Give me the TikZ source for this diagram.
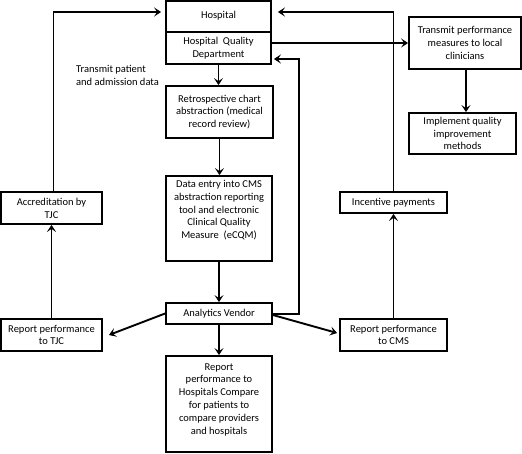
\documentclass[tikz,border=0pt]{standalone}
\usepackage{fontspec}
\setmainfont{Carlito}
\usetikzlibrary{arrows.meta}
\begin{document}
\begin{tikzpicture}[x=1pt,y=1pt,
  box/.style={draw, line width=1.8pt, inner sep=0pt, align=center, font=\fontsize{10.5}{12.8}\selectfont},
  txt/.style={inner sep=0pt, align=center, font=\fontsize{10.5}{12.8}\selectfont},
  arr/.style={line width=1.9pt, -{Stealth[length=7pt,width=9pt,inset=3pt]}},
  ln/.style={line width=1.9pt}]
\useasboundingbox (0,0) rectangle (522,-453);
% boxes
\node[box, minimum width=105pt, minimum height=31pt] (hosp) at (218.5,-16.5) {\raisebox{4pt}{Hospital}};
\node[box, minimum width=105pt, minimum height=32pt] (hqd) at (218.5,-48) {Hospital\ \ Quality\\Department};
\node[box, minimum width=107pt, minimum height=52pt] (retro) at (219.5,-112) {Retrospective chart\\abstraction (medical\\record review)};
\node[box, minimum width=112pt, minimum height=52pt] (tpm) at (465,-43) {Transmit performance\\measures to local\\clinicians};
\node[box, minimum width=107pt, minimum height=41pt] (impl) at (462.5,-133.5) {Implement quality\\improvement\\methods};
\node[box, minimum width=106pt, minimum height=85pt] (de) at (219,-218.5) {};
\node[txt, anchor=north] (detxt) at ([yshift=-5pt]de.north) {Data entry into CMS\\abstraction reporting\\tool and electronic\\Clinical Quality\\Measure\ \ (eCQM)};
\node[box, minimum width=101pt, minimum height=32pt] (accr) at (51.5,-208) {Accreditation by\\TJC};
\node[box, minimum width=107pt, minimum height=21pt] (inc) at (393.5,-202.5) {Incentive payments};
\node[box, minimum width=106pt, minimum height=21pt] (av) at (219,-313.5) {Analytics Vendor};
\node[box, minimum width=101pt, minimum height=32pt] (rtjc) at (51.5,-335) {Report performance\\to TJC};
\node[box, minimum width=107pt, minimum height=32pt] (rcms) at (393.5,-335) {Report performance\\to CMS};
\node[box, minimum width=106pt, minimum height=96pt] (rhc) at (219,-404) {};
\node[txt, anchor=north] (rhctxt) at ([yshift=-8pt]rhc.north) {Report\\performance to\\Hospitals Compare\\for patients to\\compare providers\\and hospitals};
\node[txt, align=left, anchor=north west] (lbl) at (76,-65) {Transmit patient\\and admission data};
% connectors
\draw[arr] ([xshift=2pt]accr.north) |- ([yshift=4.5pt,xshift=-4pt]hosp.west);
\draw[arr] (rtjc.north) -- (rtjc.north |- accr.south);
\draw[arr] (inc.north) |- ([yshift=4.5pt,xshift=6pt]hosp.east);
\draw[arr] (rcms.north) -- (rcms.north |- inc.south);
\draw[arr] ([yshift=5pt]hqd.east) -- (tpm.west);
\draw[arr] ([xshift=1pt]tpm.south) -- ([xshift=1pt]tpm.south |- impl.north);
\draw[arr] (hqd.south) -- (hqd.south |- retro.north);
\draw[arr] (retro.south) -- (retro.south |- de.north);
\draw[arr] (de.south) -- (av.north);
\draw[arr] ([yshift=-0.5pt]av.east) -- ++(26,0) |- ([yshift=-11pt,xshift=2pt]hqd.east);
\draw[arr] (av.west) -- ([xshift=6pt]rtjc.east);
\draw[arr] ([yshift=-1.5pt]av.east) -- ([yshift=2pt,xshift=-2pt]rcms.west);
\draw[arr] (av.south) -- (rhc.north);
\end{tikzpicture}
\end{document}
